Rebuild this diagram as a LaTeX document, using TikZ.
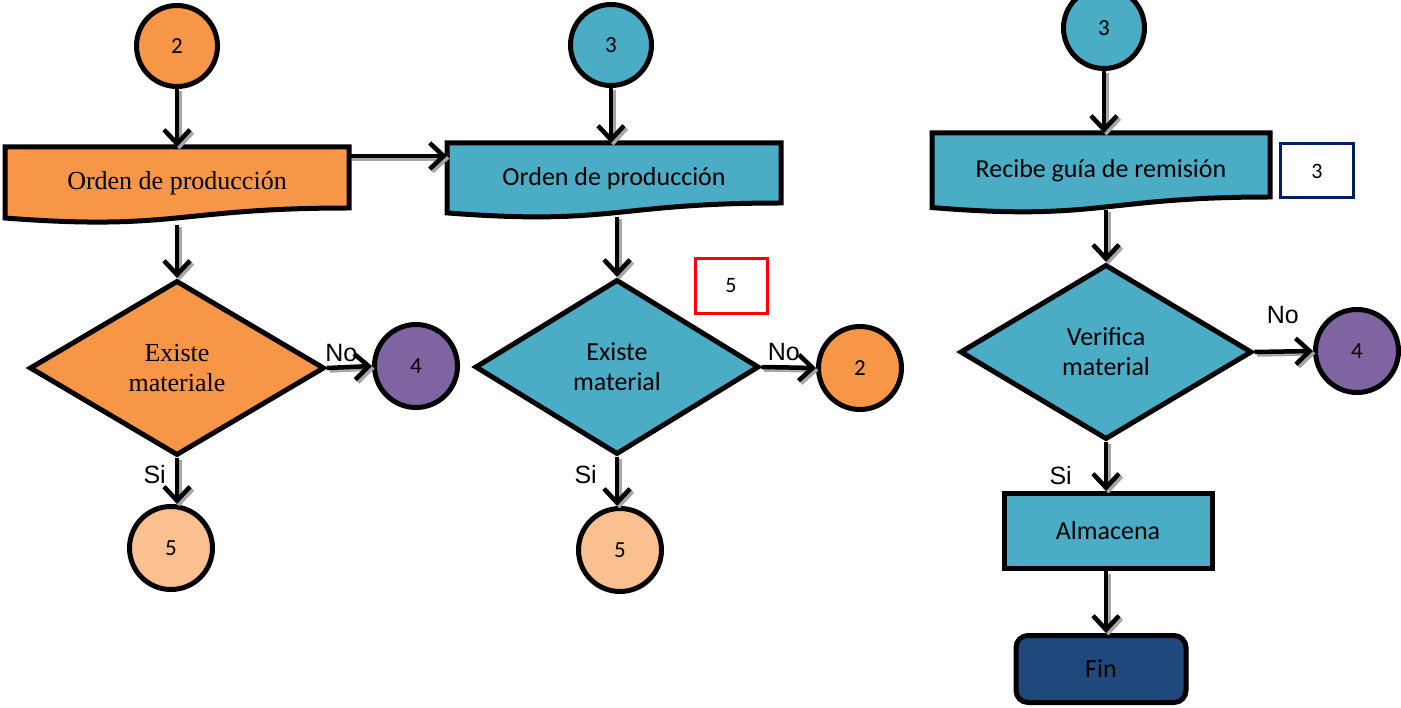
\documentclass[tikz,border=0pt]{standalone}
\usepackage{fontspec}
\setmainfont{Carlito}
\newfontfamily\serifx{Liberation Serif}
\newfontfamily\arialx{Liberation Sans}
\usetikzlibrary{shapes.geometric,arrows.meta,calc,backgrounds}
\definecolor{orangeF}{HTML}{F79646}
\definecolor{blueF}{HTML}{4BACC6}
\definecolor{purpleF}{HTML}{8064A2}
\definecolor{peachF}{HTML}{FAC090}
\definecolor{navyF}{HTML}{1F497D}
\definecolor{navyB}{HTML}{002060}
\tikzset{
  base/.style={font=\fontsize{26}{30}\selectfont, text=black, align=center, inner sep=0pt},
  docnode/.style={base, rectangle, outer sep=0pt, text height=30pt, text depth=5pt},
  conn/.style={circle, draw=black, line width=5pt, minimum size=81pt, inner sep=0pt,
    font=\fontsize{23}{25}\selectfont, text=black},
  decision/.style={base, diamond, draw=black, line width=5pt, aspect=1.7},
  procbox/.style={base, rectangle, draw=black, line width=5pt},
  refbox/.style={rectangle, line width=3pt, fill=white, inner sep=0pt,
    font=\fontsize{22}{24}\selectfont, text=black},
  lbl/.style={font=\arialx\fontsize{25}{28}\selectfont, inner sep=0pt, text=black},
  arr/.style={line width=4.5pt, -{Straight Barb[length=14pt,width=26pt]},
    preaction={draw=black!35, line width=4.5pt, -{Straight Barb[length=14pt,width=26pt]},
      transform canvas={xshift=2.5pt,yshift=-2.5pt}}},
}
\newcommand\docoutline[3]{%
  \begin{scope}[on background layer]
    \draw[line width=5pt, fill=#2, line join=miter]
      (#1.north west) -- (#1.north east) -- (#1.south east)
      .. controls (#1.south) and ($(#1.south)+(0,0.305*#3)$) ..
      ($(#1.south west)+(0,0.132*#3)$) -- cycle;
  \end{scope}}
\begin{document}
\begin{tikzpicture}[x=1pt,y=-1pt]
\useasboundingbox (0,0) rectangle (1401,708);
\clip (0,0) rectangle (1401,708);

% ---------- column 1 (orange) ----------
\node[conn, fill=orangeF] (c2a) at (177,46) {2};
\node[docnode, font=\serifx\fontsize{26}{30}\selectfont, minimum width=344pt, minimum height=61pt] (o1) at (177,177.5) {Orden de producción};
\docoutline{o1}{orangeF}{76}
\node[decision, fill=orangeF, font=\serifx\fontsize{26}{30}\selectfont, minimum width=295pt, minimum height=175pt] (d1) at (177,368) {Existe\\materiale};
\node[conn, fill=purpleF, minimum size=83pt] (c4a) at (416,366) {4};
\node[conn, fill=peachF, minimum size=83pt] (c5a) at (171,548) {5};

% ---------- column 2 (blue) ----------
\node[conn, fill=blueF] (c3a) at (611,45) {3};
\node[docnode, minimum width=334pt, minimum height=60pt] (b1) at (614,173) {Orden de producción};
\docoutline{b1}{blueF}{75}
\node[decision, fill=blueF, minimum width=284pt, minimum height=175pt] (d2) at (617,367) {Existe\\material};
\node[conn, fill=orangeF, minimum size=83pt] (c2b) at (860,368) {2};
\node[conn, fill=peachF, minimum size=83pt] (c5b) at (620,550) {5};
\node[refbox, draw=red, minimum width=72pt, minimum height=55pt] (r5) at (731,286) {5};

% ---------- column 3 ----------
\node[conn, fill=blueF] (c3b) at (1104,28) {3};
\node[docnode, minimum width=338pt, minimum height=64pt] (b2) at (1101,165) {Recibe guía de remisión};
\docoutline{b2}{blueF}{80}
\node[refbox, draw=navyB, minimum width=73pt, minimum height=54pt] (n3) at (1317,171) {3};
\node[decision, fill=blueF, minimum width=292pt, minimum height=175pt] (d3) at (1106,352) {Verifica\\material};
\node[conn, fill=purpleF, minimum size=83pt] (c4b) at (1357,351) {4};
\node[procbox, fill=blueF, minimum width=208pt, minimum height=75pt] (alm) at (1108,531) {Almacena};
\node[procbox, fill=navyF, rounded corners=12pt, minimum width=170pt, minimum height=67pt] (fin) at (1101,669) {Fin};

% ---------- connectors ----------
\draw[arr] (c2a.south) -- (o1.north);
\draw[arr] ($(o1.north east)+(0,9)$) -- ($(o1.north east -| b1.west)+(0,9)$);
\draw[arr] ($(o1.south)+(0,17)$) -- (d1.north);
\draw[arr] (d1.east) -- node[lbl, pos=0, anchor=south west, xshift=-4pt, yshift=4pt] {No} (c4a.west);
\draw[arr] (d1.south) -- node[lbl, pos=0, anchor=north east, xshift=-9pt, yshift=-5pt] {Si} (d1.south |- c5a.north);

\draw[arr] (c3a.south) -- (c3a.south |- b1.north);
\draw[arr] ($(b1.south -| d2.north)+(0,14)$) -- (d2.north);
\draw[arr] (d2.east) -- node[lbl, pos=0, anchor=south west, xshift=4pt, yshift=4pt] {No} (c2b.west);
\draw[arr] (d2.south) -- node[lbl, pos=0, anchor=north east, xshift=-18pt, yshift=-6pt] {Si} (d2.south |- c5b.north);

\draw[arr] (c3b.south) -- (c3b.south |- b2.north);
\draw[arr] ($(b2.south -| d3.north)+(0,13)$) -- (d3.north);
\draw[arr] (d3.east) -- node[lbl, pos=0, anchor=south west, xshift=10pt, yshift=26pt] {No} (c4b.west);
\draw[arr] (d3.south) -- node[lbl, pos=0, anchor=north east, xshift=-32pt, yshift=-22pt] {Si} (d3.south |- alm.north);
\draw[arr] (d3.south |- alm.south) -- (d3.south |- fin.north);
\end{tikzpicture}
\end{document}
